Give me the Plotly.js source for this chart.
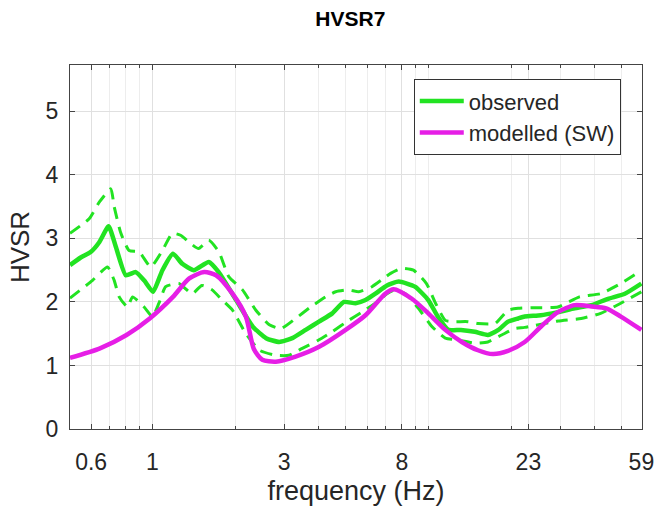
<!DOCTYPE html>
<html>
<head>
<meta charset="utf-8">
<script src="https://cdn.plot.ly/plotly-3.0.1.min.js"></script>
<style>html,body{margin:0;padding:0;background:#fff;}#chart{width:656px;height:506px;}</style>
</head>
<body>
<div id="chart"></div>
<script>
// observed mean HVSR
const obsF = [0.503, 0.55, 0.599, 0.642, 0.694, 0.737, 0.801, 0.87, 0.933, 1.005, 1.087, 1.187, 1.283, 1.413, 1.6, 1.738, 2.01, 2.31, 2.58, 2.88, 3.21, 3.59, 4.01, 4.48, 4.94, 5.44, 5.91, 6.42, 7.07, 7.8, 8.93, 9.98, 10.8, 11.8, 13.1, 14.7, 16.4, 17.9, 19.4, 21.1, 22.3, 25.5, 29.4, 33.8, 38.9, 44.7, 51.4, 59];
const obsV = [2.58, 2.7, 2.79, 2.94, 3.19, 2.87, 2.42, 2.47, 2.34, 2.16, 2.5, 2.76, 2.6, 2.5, 2.63, 2.47, 2.03, 1.61, 1.43, 1.37, 1.43, 1.56, 1.69, 1.82, 2.0, 1.98, 2.03, 2.13, 2.26, 2.32, 2.24, 2.03, 1.77, 1.56, 1.56, 1.53, 1.48, 1.56, 1.69, 1.74, 1.77, 1.79, 1.84, 1.90, 1.95, 2.05, 2.13, 2.29];
// observed + std
const upF = [0.503, 0.59, 0.642, 0.707, 0.727, 0.769, 0.823, 0.895, 0.986, 1.087, 1.18, 1.265, 1.375, 1.47, 1.6, 1.74, 1.89, 2.12, 2.37, 2.65, 2.92, 3.30, 3.74, 4.24, 4.61, 5.14, 5.59, 6.24, 6.97, 7.29, 8.0, 8.82, 9.83, 10.6, 11.5, 12.3, 13.9, 15.1, 17.4, 19.4, 21.1, 23.6, 29.4, 35.2, 42.0, 49.7, 59];
const upV = [3.08, 3.31, 3.57, 3.78, 3.50, 3.08, 2.81, 2.79, 2.55, 2.81, 3.08, 3.05, 2.92, 2.84, 2.97, 2.79, 2.4, 2.19, 1.87, 1.64, 1.58, 1.74, 1.92, 2.08, 2.16, 2.19, 2.16, 2.24, 2.39, 2.45, 2.53, 2.50, 2.29, 1.98, 1.71, 1.69, 1.69, 1.66, 1.66, 1.87, 1.90, 1.91, 1.92, 2.08, 2.13, 2.29, 2.50];
// observed - std
const loF = [0.503, 0.607, 0.688, 0.727, 0.758, 0.813, 0.847, 0.933, 1.0, 1.056, 1.117, 1.247, 1.394, 1.51, 1.645, 1.79, 1.95, 2.18, 2.44, 2.80, 3.12, 3.49, 4.0, 4.48, 5.14, 5.74, 6.42, 7.07, 7.56, 8.24, 9.19, 10.3, 11.5, 12.8, 14.7, 16.4, 18.4, 20.5, 22.3, 29.4, 35.7, 42.0, 49.7, 59];
const loV = [2.06, 2.34, 2.55, 2.34, 2.08, 1.92, 2.08, 1.92, 1.77, 1.98, 2.24, 2.29, 2.13, 2.26, 2.19, 2.03, 1.87, 1.50, 1.24, 1.16, 1.16, 1.27, 1.40, 1.53, 1.71, 1.84, 1.98, 2.13, 2.19, 2.13, 1.90, 1.61, 1.43, 1.40, 1.35, 1.37, 1.48, 1.58, 1.60, 1.70, 1.74, 1.82, 1.98, 2.16];
// modelled (SW)
const modF = [0.503, 0.646, 0.806, 0.978, 1.187, 1.36, 1.54, 1.70, 1.95, 2.18, 2.33, 2.5, 2.80, 3.30, 4.0, 5.01, 5.91, 6.97, 7.47, 8.7, 9.98, 11.5, 13.2, 15.1, 17.1, 19.4, 22.3, 25.5, 29.4, 33.8, 38.9, 44.0, 49.7, 59];
const modV = [1.12, 1.27, 1.48, 1.74, 2.08, 2.37, 2.47, 2.42, 2.13, 1.77, 1.26, 1.09, 1.06, 1.14, 1.29, 1.56, 1.79, 2.13, 2.20, 2.05, 1.82, 1.56, 1.37, 1.24, 1.18, 1.23, 1.37, 1.61, 1.84, 1.95, 1.93, 1.90, 1.77, 1.56];

const tickVals = [0.6, 1, 3, 8, 23, 59];
const tickText = ['0.6', '1', '3', '8', '23', '59'];
const minorVals = [0.6, 0.7, 0.8, 0.9, 2, 4, 5, 6, 7, 9, 10, 20, 30, 40, 50];

const GREEN = '#22e322';
const MAGENTA = '#e61ee6';
const FONT = 'Arial, "Liberation Sans", Helvetica, sans-serif';

const traces = [
  {x: upF, y: upV, mode: 'lines', line: {color: GREEN, width: 3, dash: '12px,8px', shape: 'spline', smoothing: 0.5}, showlegend: false, hoverinfo: 'skip'},
  {x: loF, y: loV, mode: 'lines', line: {color: GREEN, width: 3, dash: '12px,8px', shape: 'spline', smoothing: 0.5}, showlegend: false, hoverinfo: 'skip'},
  {x: obsF, y: obsV, mode: 'lines', name: 'observed', line: {color: GREEN, width: 4.5, shape: 'spline', smoothing: 0.5}},
  {x: modF, y: modV, mode: 'lines', name: 'modelled (SW)', line: {color: MAGENTA, width: 4.5, shape: 'spline', smoothing: 0.7}}
];

const layout = {
  width: 656, height: 506,
  margin: {l: 70, r: 14, t: 65, b: 77},
  paper_bgcolor: '#fff', plot_bgcolor: '#fff',
  font: {family: FONT, color: '#262626'},
  title: {text: '<b>HVSR7</b>', font: {size: 21, family: FONT, color: '#000'}, x: 0.534, xref: 'container', xanchor: 'center', y: 0.964, yref: 'container', yanchor: 'middle'},
  xaxis: {
    type: 'log', range: [Math.log10(0.503), Math.log10(59.3)],
    tickmode: 'array', tickvals: tickVals, ticktext: tickText,
    ticks: 'inside', ticklen: 5, tickcolor: '#444', tickfont: {size: 23, color: '#262626'},
    ticklabelstandoff: 12,
    showline: true, linecolor: '#444', linewidth: 1, mirror: 'ticks',
    showgrid: true, gridcolor: '#e0e0e0', gridwidth: 1,
    minor: {tickmode: 'array', tickvals: minorVals, ticks: 'inside', ticklen: 3, tickcolor: '#444', showgrid: true, gridcolor: '#ededed', gridwidth: 1},
    zeroline: false,
    title: {text: 'frequency (Hz)', font: {size: 27, color: '#262626'}, standoff: 8}
  },
  yaxis: {
    range: [0, 5.73], tickmode: 'linear', tick0: 0, dtick: 1,
    ticks: 'inside', ticklen: 5, tickcolor: '#444', tickfont: {size: 23, color: '#262626'},
    ticklabelstandoff: 6,
    showline: true, linecolor: '#444', linewidth: 1, mirror: 'ticks',
    showgrid: true, gridcolor: '#e0e0e0', gridwidth: 1,
    zeroline: false,
    title: {text: 'HVSR', font: {size: 26, color: '#262626'}, standoff: 8}
  },
  legend: {
    x: 0.601, y: 0.961, xanchor: 'left', yanchor: 'top',
    bgcolor: '#fff', bordercolor: '#333', borderwidth: 1,
    font: {size: 22, color: '#262626', family: FONT},
    itemwidth: 44,
    tracegroupgap: 0
  },
  showlegend: true
};

Plotly.newPlot('chart', traces, layout, {displayModeBar: false, staticPlot: true});
</script>
</body>
</html>
